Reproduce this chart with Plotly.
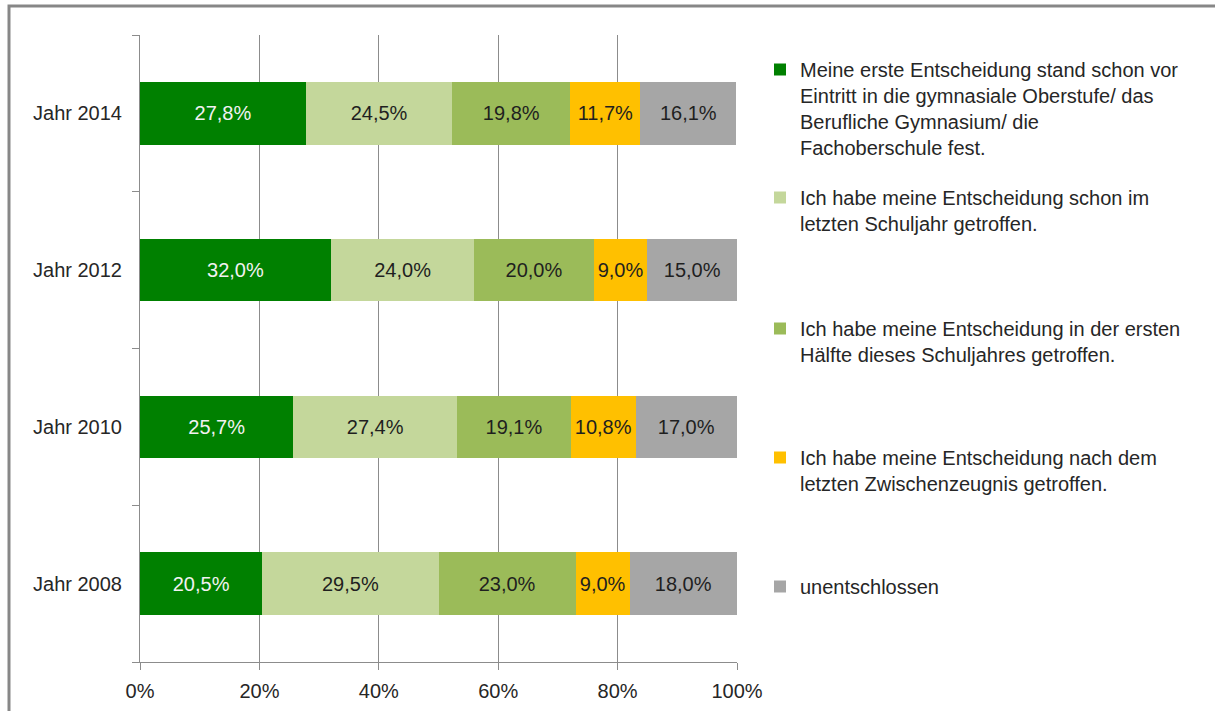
import plotly.graph_objects as go

# Survey years (bottom to top) and the share of each answer in percent
years = ["Jahr 2008", "Jahr 2010", "Jahr 2012", "Jahr 2014"]

vor_eintritt = [20.5, 25.7, 32.0, 27.8]
letztes_schuljahr = [29.5, 27.4, 24.0, 24.5]
erste_haelfte = [23.0, 19.1, 20.0, 19.8]
nach_zwischenzeugnis = [9.0, 10.8, 9.0, 11.7]
unentschlossen = [18.0, 17.0, 15.0, 16.1]

series_names = [
    "Meine erste Entscheidung stand schon vor<br>Eintritt in die gymnasiale Oberstufe/ das<br>Berufliche Gymnasium/ die<br>Fachoberschule fest.",
    "Ich habe meine Entscheidung schon im<br>letzten Schuljahr getroffen.",
    "Ich habe meine Entscheidung in der ersten<br>Hälfte dieses Schuljahres getroffen.",
    "Ich habe meine Entscheidung nach dem<br>letzten Zwischenzeugnis getroffen.",
    "unentschlossen",
]
series_values = [vor_eintritt, letztes_schuljahr, erste_haelfte,
                 nach_zwischenzeugnis, unentschlossen]

x_ticks = [0, 20, 40, 60, 80, 100]
x_tick_labels = ["0%", "20%", "40%", "60%", "80%", "100%"]

colors = ["#008000", "#C4D79B", "#9BBB59", "#FFC000", "#A6A6A6"]
text_colors = ["#F2F2F2", "#1F1F1F", "#1F1F1F", "#1F1F1F", "#1F1F1F"]

W, H = 1215, 711
ML, MR, MT, MB = 140, 478, 35, 49
FONT = "Liberation Sans, Arial, sans-serif"
FS = 20
GRID = "#8C8C8C"

# first-line centre (px from top) of each legend entry
legend_rows = [70, 198, 329, 458, 587]

fig = go.Figure()
for i, (name, vals) in enumerate(zip(series_names, series_values)):
    lg = "legend" if i == 0 else f"legend{i + 1}"
    fig.add_trace(go.Bar(
        y=years, x=vals, name=name, orientation="h",
        marker=dict(color=colors[i], line=dict(width=0)),
        texttemplate="%{x:.1f}%", textposition="inside",
        insidetextanchor="middle", textangle=0,
        textfont=dict(color=text_colors[i], size=FS, family=FONT),
        legend=lg,
    ))

legends = {}
for i, row in enumerate(legend_rows):
    key = "legend" if i == 0 else f"legend{i + 1}"
    legends[key] = dict(
        xref="container", yref="container",
        x=760 / W, y=1 - (row - 20) / H,
        xanchor="left", yanchor="top",
        bgcolor="rgba(0,0,0,0)", borderwidth=0,
        font=dict(size=FS, family=FONT, color="#262626"),
        valign="top", itemclick=False, itemdoubleclick=False,
        tracegroupgap=0,
    )

pw = W - ML - MR
ph = H - MT - MB


def px_x(x):
    return (x - ML) / pw


def px_y(y):
    return (H - MB - y) / ph


fig.update_layout(
    width=W, height=H,
    margin=dict(l=ML, r=MR, t=MT, b=MB, pad=0, autoexpand=False),
    barmode="stack", bargap=0.6,
    separators=",.",
    paper_bgcolor="white", plot_bgcolor="white",
    font=dict(family=FONT, size=FS, color="#262626"),
    uniformtext=dict(minsize=FS, mode="show"),
    showlegend=True,
    xaxis=dict(
        range=[0, 100], tickmode="array", tickvals=x_ticks,
        ticktext=x_tick_labels,
        showgrid=True, gridcolor=GRID, gridwidth=1,
        showline=True, linecolor=GRID, linewidth=1,
        ticks="outside", ticklen=7, tickcolor=GRID,
        zeroline=False, fixedrange=True, ticklabelstandoff=4,
        tickfont=dict(size=FS, family=FONT, color="#262626"),
    ),
    yaxis=dict(
        categoryorder="array", categoryarray=years,
        range=[-0.5, 3.5], tickson="boundaries",
        showline=True, linecolor=GRID, linewidth=1,
        ticks="outside", ticklen=7, tickcolor=GRID,
        showgrid=False, fixedrange=True,
        ticklabelstandoff=13,
        tickfont=dict(size=FS, family=FONT, color="#262626"),
    ),
    shapes=[
        dict(type="rect", xref="paper", yref="paper",
             x0=px_x(9), x1=px_x(1222), y0=px_y(740), y1=px_y(6),
             line=dict(color="#878787", width=3), fillcolor="rgba(0,0,0,0)",
             layer="below"),
    ],
    **legends,
)

fig.write_html("out.html")
